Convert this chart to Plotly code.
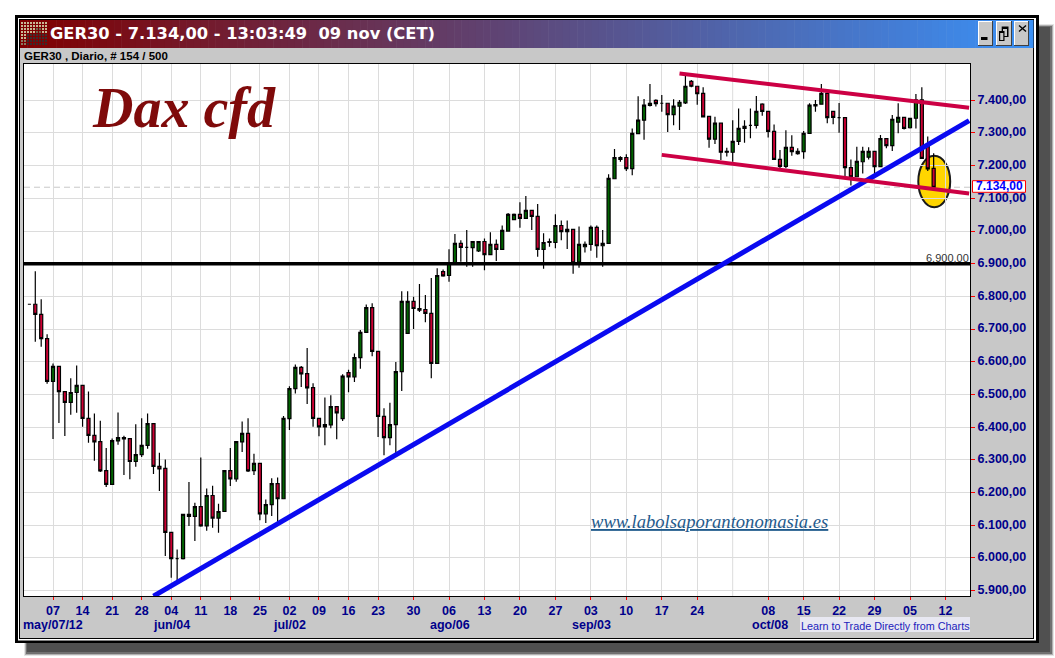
import plotly.graph_objects as go

W, H = 1055, 658

# ---------- data ----------
opens = [6776,
 6776,6745,6671,6540,6586,6509,6476,6506,6528,6427,
 6375,6356,6267,6225,6358,6364,6365,6295,6316,6344,
 6411,6280,6274,6078,5998,5998,6133,6127,6157,6098,
 6191,6122,6142,6267,6242,6355,6381,6267,6289,6135,
 6163,6227,6181,6426,6518,6583,6564,6521,6427,6401,
 6407,6463,6426,6567,6554,6613,6690,6766,6632,6433,
 6368,6408,6570,6687,6785,6763,6760,6748,6595,6876,
 6864,6903,6962,6950,6949,6939,6968,6928,6959,6944,
 7000,7035,7051,7039,7063,7045,6944,6965,6965,7017,
 6998,7005,6905,6952,6959,7011,6955,6962,7160,7219,
 7225,7191,7298,7339,7384,7400,7391,7391,7356,7382,
 7392,7458,7443,7421,7351,7281,7330,7244,7241,7274,
 7314,7323,7323,7388,7366,7305,7219,7198,7256,7237,
 7243,7299,7383,7388,7421,7366,7347,7347,7194,7166,
 7212,7226,7244,7197,7283,7261,7333,7348,7316,7345,
 7401,7258,7192]
highs = [6776,
 6877,6791,6684,6595,6586,6509,6550,6589,6528,6509,
 6442,6420,6336,6365,6445,6374,6365,6409,6427,6442,
 6411,6322,6301,6078,6026,6133,6232,6169,6307,6212,
 6221,6166,6267,6336,6356,6417,6427,6319,6289,6179,
 6244,6246,6434,6525,6592,6587,6642,6534,6427,6491,
 6498,6463,6562,6576,6625,6697,6775,6779,6632,6458,
 6475,6599,6816,6816,6799,6838,6804,6856,6886,6882,
 6944,6991,6972,7003,6968,6968,6977,6996,6974,7017,
 7055,7054,7088,7107,7063,7083,6993,6977,7051,7032,
 7032,7005,7014,6968,7017,7017,7003,7174,7251,7229,
 7235,7314,7412,7404,7450,7403,7416,7391,7403,7401,
 7477,7462,7443,7440,7351,7350,7330,7255,7339,7375,
 7339,7375,7413,7391,7366,7326,7248,7308,7293,7253,
 7306,7391,7401,7450,7421,7366,7392,7347,7219,7258,
 7258,7256,7244,7294,7283,7355,7391,7348,7345,7419,
 7440,7289,7238]
lows = [6776,
 6661,6646,6533,6364,6413,6373,6438,6444,6401,6352,
 6297,6263,6217,6225,6346,6254,6241,6279,6309,6334,
 6257,6205,6006,5939,5921,5995,6098,6052,6095,6083,
 6092,6077,6142,6220,6233,6324,6263,6254,6115,6107,
 6128,6105,6181,6391,6503,6523,6471,6401,6372,6345,
 6397,6363,6419,6507,6538,6579,6690,6617,6370,6314,
 6345,6319,6511,6687,6700,6752,6721,6550,6595,6860,
 6845,6903,6906,6891,6891,6936,6880,6928,6908,6944,
 6998,7035,7010,7039,7003,6921,6885,6952,6947,6972,
 6945,6869,6888,6934,6940,6918,6891,6962,7160,7212,
 7184,7171,7298,7279,7381,7381,7365,7303,7324,7309,
 7389,7440,7386,7347,7255,7266,7217,7228,7212,7263,
 7270,7284,7314,7353,7286,7219,7192,7192,7230,7233,
 7221,7297,7365,7388,7330,7327,7301,7166,7139,7166,
 7176,7219,7174,7197,7253,7245,7299,7311,7314,7314,
 7222,7184,7134]
closes = [6776,
 6745,6671,6540,6586,6509,6476,6506,6528,6427,6375,
 6355,6266,6225,6359,6368,6368,6295,6316,6344,6411,
 6280,6272,6078,5998,5998,6133,6127,6157,6098,6191,
 6122,6142,6267,6242,6356,6381,6266,6289,6135,6163,
 6227,6181,6427,6518,6583,6563,6520,6427,6401,6408,
 6463,6444,6556,6554,6613,6690,6766,6632,6433,6368,
 6408,6570,6785,6785,6763,6758,6748,6595,6864,6863,
 6901,6962,6950,6950,6968,6968,6928,6959,6944,7002,
 7051,7051,7039,7063,7045,6944,6965,6968,7017,6998,
 7005,6903,6959,6959,7011,6955,6962,7161,7225,7225,
 7191,7299,7339,7385,7391,7390,7391,7356,7382,7394,
 7443,7443,7420,7349,7281,7330,7241,7241,7274,7314,
 7320,7323,7366,7366,7305,7219,7198,7256,7243,7244,
 7299,7385,7387,7421,7347,7348,7347,7194,7166,7213,
 7244,7244,7197,7283,7261,7342,7348,7314,7345,7401,
 7222,7190,7134]
assert len(opens) == len(highs) == len(lows) == len(closes) == 154
sessions = list(range(len(opens)))

week_ticks = [4,9,14,19,24,29,34,39,44,49,54,59,65,71,77,83,89,95,101,107,113,125,131,137,143,149,155]
week_labels = ["07","14","21","28","04","11","18","25","02","09","16","23","30","06","13","20","27","03","10","17","24","08","15","22","29","05","12"]
unlabelled_week = 119
month_labels = ["may/07/12","jun/04","jul/02","ago/06","sep/03","oct/08"]
month_px = [23,153,273,430,572,752]

price_ticks = list(range(5900, 7500, 100))
price_labels = [f"{p//1000}.{p%1000:03d},00" for p in price_ticks]

last_price = 7134
support = 6900
trend_x = [21, 159];        trend_y = [5883, 7338]
chan_up_x = [110, 159];     chan_up_y = [7482, 7377]
chan_lo_x = [107, 159];     chan_lo_y = [7233, 7115]
circle_x = [150.4, 155.8];  circle_y = [7073, 7230]

NAVY = "#00008B"
PANEL = "#C8C8C8"
SANS = "Liberation Sans"

# ---------- pixel helpers for the window chrome ----------
def rect(x0, y0, x1, y1, fill, layer="below"):
    return dict(type="rect", xref="paper", yref="paper", x0=x0/W, x1=x1/W,
                y0=1-y1/H, y1=1-y0/H, fillcolor=fill, line=dict(width=0), layer=layer)

def seg(x0, y0, x1, y1, color, width=1, layer="above"):
    return dict(type="line", xref="paper", yref="paper", x0=x0/W, x1=x1/W,
                y0=1-y0/H, y1=1-y1/H, line=dict(color=color, width=width), layer=layer)

def txt(x, y, s, size, color, family=SANS, anchor="left"):
    return dict(xref="paper", yref="paper", x=x/W, y=1-y/H, text=s, showarrow=False,
                xanchor=anchor, yanchor="middle", align=anchor,
                font=dict(size=size, color=color, family=family), borderpad=0, borderwidth=0)

shapes = []
# drop shadow
shapes += [rect(24, 24, 1054, 656, "#E4E4E4"), rect(25, 25, 1053, 655, "#B0B0B0"),
           rect(26, 26, 1052, 654, "#707070"), rect(27, 27, 1050, 652, "#505050")]
# frame
shapes += [rect(15, 15, 1039, 643, "#000000"), rect(18, 18, 1036, 640.5, "#FFFFFF"),
           rect(19, 19, 1034, 639, "#000000"), rect(20, 20, 1033, 638, PANEL)]
# title bar gradient
steps = 140
for i in range(steps):
    t = i/(steps-1)
    c = (round(128+(58-128)*t), round(0+(144-0)*t), round(0+(245-0)*t))
    shapes.append(rect(20+1013*i/steps, 20, 20+1013*(i+1)/steps+0.5, 48, f"rgb{c}"))
# title bar logo dots
for r in range(8):
    for k in range(9):
        if r <= 3:
            col = "#6E6A50" if (k in (5, 6) and r >= 2) else "#C9B994"
        elif r <= 5:
            col = "#C9B994" if k < 2 else "#3C3030"
        else:
            col = "#8A7A60" if k < 2 else "#3A2A2A"
        shapes.append(rect(21+3*k, 22+3*r, 23+3*k, 24+3*r, col))
# window buttons
for bx0, bx1 in [(978, 993), (996, 1012), (1014, 1029)]:
    shapes += [rect(bx0, 21, bx1, 46, "#404040"), rect(bx0, 21, bx1-1, 45, "#FFFFFF"),
               rect(bx0+1, 22, bx1-1, 45, PANEL)]
shapes.append(rect(981, 37, 987.5, 40, "#000000"))
shapes += [rect(1001.7, 26.5, 1008.5, 37, "#000000"), rect(1003, 29, 1007, 36, PANEL),
           rect(999, 31, 1004.5, 41, "#000000"), rect(1000.2, 33, 1003.3, 40, PANEL)]
shapes += [seg(1019, 25.5, 1026, 31.5, "#000000", 1.4), seg(1026, 25.5, 1019, 31.5, "#000000", 1.4)]
# plot background (panel lies over the plot background otherwise)
shapes.append(rect(24, 64, 970, 596, "#FFFFFF"))
# "learn" strip
shapes.append(rect(800, 617, 970, 632, "#E8E8F2"))
# un-labelled October gridline, last-price rule, highlight circle
shapes.append(dict(type="line", xref="x", yref="paper", x0=unlabelled_week, x1=unlabelled_week,
                   y0=(H-596)/H, y1=(H-64)/H, line=dict(color="#DCDCDC", width=1), layer="below"))
shapes.append(dict(type="line", xref="paper", yref="y", x0=24/W, x1=970/W, y0=last_price, y1=last_price,
                   line=dict(color="#C8C8C8", width=1, dash="6px,4px"), layer="below"))
shapes.append(dict(type="circle", xref="x", yref="y", x0=circle_x[0], x1=circle_x[1],
                   y0=circle_y[0], y1=circle_y[1], fillcolor="#FFD500",
                   line=dict(color="#1A1A1A", width=2), layer="below"))
# last price box
shapes.append(dict(type="rect", xref="paper", yref="paper", x0=972.5/W, x1=1025.5/W,
                   y0=1-192.3/H, y1=1-180.7/H, fillcolor="#FFFFFF",
                   line=dict(color="#FF0000", width=1), layer="above"))

annotations = [
    txt(50, 33.5, "<b>GER30 - 7.134,00 - 13:03:49\u00a0\u00a009 nov (CET)</b>", 16.3, "#FFFFFF", "DejaVu Sans"),
    txt(24, 56, "<b>GER30 , Diario, # 154 / 500</b>", 11.5, "#000000"),
    txt(92, 108, "<b><i>Dax cfd</i></b>", 56, "#7F0A0A", "Liberation Serif"),
    txt(591, 521, "<i><u>www.labolsaporantonomasia.es</u></i>", 18.6, "#1F5A8C", "Liberation Serif"),
    txt(969, 258, "6.900,00", 11, "#333333", anchor="right"),
    txt(999, 186, "<b>7.134,00</b>", 12, "#0000FF", anchor="center"),
    txt(801, 625.5, "Learn to Trade Directly from Charts", 10.8, "#2222BB"),
]
annotations += [txt(px, 625, f"<b>{m}</b>", 12.5, NAVY) for m, px in zip(month_labels, month_px)]

fig = go.Figure()
fig.add_trace(go.Candlestick(
    x=sessions, open=opens, high=highs, low=lows, close=closes,
    whiskerwidth=0, hoverinfo="skip", showlegend=False,
    increasing=dict(fillcolor="#006400", line=dict(color="#000000", width=1.2)),
    decreasing=dict(fillcolor="#CC0033", line=dict(color="#000000", width=1.2)),
))
fig.add_trace(go.Scatter(x=[-1, 160], y=[support, support], mode="lines",
                         line=dict(color="#000000", width=3.5), hoverinfo="skip", showlegend=False))
fig.add_trace(go.Scatter(x=trend_x, y=trend_y, mode="lines",
                         line=dict(color="#0A0AF0", width=5), hoverinfo="skip", showlegend=False))
for xs, ys in ((chan_up_x, chan_up_y), (chan_lo_x, chan_lo_y)):
    fig.add_trace(go.Scatter(x=xs, y=ys, mode="lines",
                             line=dict(color="#CC0044", width=4), hoverinfo="skip", showlegend=False))

fig.update_layout(
    width=W, height=H, autosize=False, margin=dict(l=0, r=0, t=0, b=0),
    paper_bgcolor="#FFFFFF", plot_bgcolor="#FFFFFF", showlegend=False,
    shapes=shapes, annotations=annotations, boxgap=0.26,
    xaxis=dict(domain=[24/W, 970/W], range=[-0.91, 159.15], rangeslider=dict(visible=False),
               tickmode="array", tickvals=week_ticks, ticktext=[f"<b>{t}</b>" for t in week_labels],
               showgrid=True, gridcolor="#DCDCDC", gridwidth=1, zeroline=False,
               showline=True, linecolor="#000000", linewidth=1, mirror=True,
               ticks="outside", ticklen=3, tickwidth=1, tickcolor="#FF0000",
               tickfont=dict(family=SANS, size=12.5, color=NAVY)),
    yaxis=dict(domain=[(H-596)/H, (H-64)/H], range=[5883.5, 7511], side="right",
               tickmode="array", tickvals=price_ticks, ticktext=[f"<b>{t}</b>" for t in price_labels],
               showgrid=True, gridcolor="#DCDCDC", gridwidth=1, zeroline=False,
               showline=True, linecolor="#000000", linewidth=1, mirror=True,
               ticks="outside", ticklen=4, tickwidth=1, tickcolor="#FF0000", ticklabelshift=-1,
               tickfont=dict(family=SANS, size=12.5, color=NAVY)),
)

fig.write_html("out.html", config=dict(displayModeBar=False),
               post_script="document.body.style.margin='0';document.body.style.overflow='hidden';")
